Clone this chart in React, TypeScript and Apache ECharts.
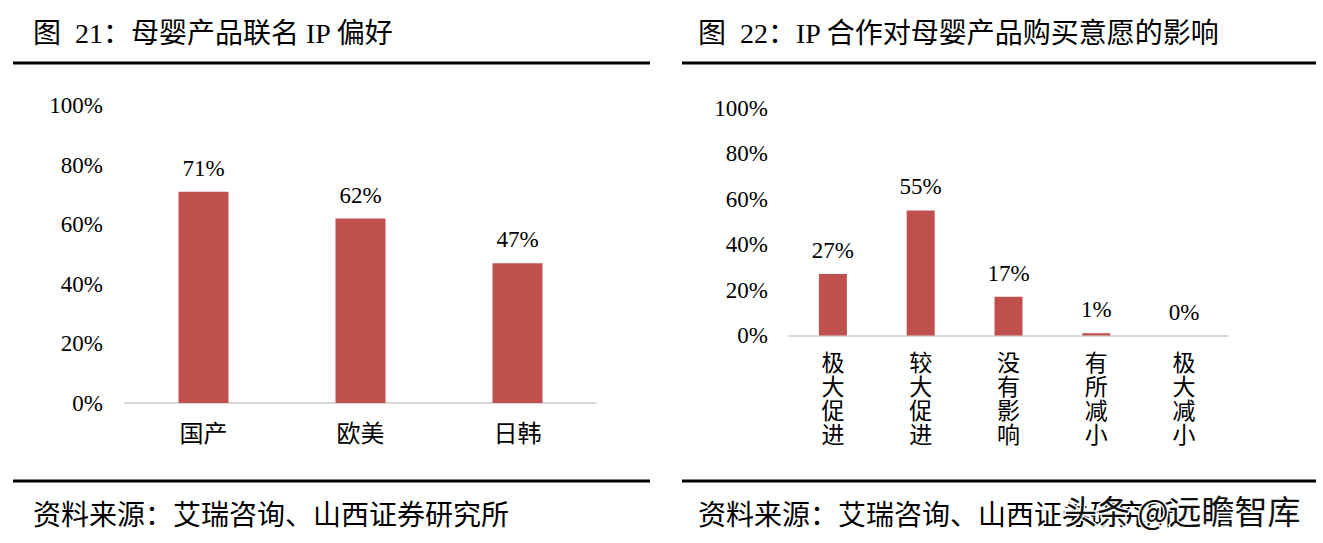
import React, { useEffect, useRef } from "react";
import * as echarts from "echarts";

const leftTitle = "图  21：母婴产品联名 IP 偏好";
const rightTitle = "图  22：IP 合作对母婴产品购买意愿的影响";
const sourceText = "资料来源：艾瑞咨询、山西证券研究所";
const watermark = "头条 @远瞻智库";

const leftCategories = ["国产", "欧美", "日韩"];
const leftValues = [71, 62, 47];

const rightCategories = ["极大促进", "较大促进", "没有影响", "有所减小", "极大减小"];
const rightValues = [27, 55, 17, 1, 0];

const yTicks = { min: 0, max: 100, interval: 20 };

const BAR = "#c0504d";
const SERIF = "'Liberation Serif', 'Noto Sans CJK SC', serif";
const SANS = "'Noto Sans CJK SC', 'Noto Sans', sans-serif";

export default function App() {
  const ref = useRef<HTMLDivElement>(null);
  useEffect(() => {
    if (!ref.current) return;
    const chart = echarts.init(ref.current, undefined, { renderer: "svg" });
    const yAxisBase = (margin: number) => ({
      type: "value",
      min: yTicks.min,
      max: yTicks.max,
      interval: yTicks.interval,
      axisLine: { show: false },
      axisTick: { show: false },
      splitLine: { show: false },
      axisLabel: {
        formatter: "{value}%",
        fontFamily: SERIF,
        fontSize: 23,
        color: "#000",
        margin,
      },
    });
    const labelStyle = {
      show: true,
      position: "top",
      distance: 12,
      formatter: "{c}%",
      fontFamily: SERIF,
      fontSize: 23,
      color: "#000",
    };
    const text = (t: string, x: number, y: number, size: number, family: string, extra: any = {}) => ({
      type: "text",
      x,
      y,
      style: {
        text: t,
        fontSize: size,
        fontFamily: family,
        fill: "#000",
        verticalAlign: "middle",
        align: "left",
        ...extra,
      },
      z: 10,
    });
    const hline = (x1: number, x2: number, y: number) => ({
      type: "line",
      shape: { x1, y1: y, x2, y2: y },
      style: { stroke: "#000", lineWidth: 3 },
    });
    chart.setOption({
      animation: false,
      backgroundColor: "#fff",
      grid: [
        { left: 125, top: 105.5, width: 471, height: 297.5 },
        { left: 789, top: 108, width: 439, height: 227.5 },
      ],
      xAxis: [
        {
          type: "category",
          gridIndex: 0,
          data: leftCategories,
          axisLine: { lineStyle: { color: "#d9d9d9", width: 2 } },
          axisTick: { show: false },
          axisLabel: { fontFamily: SANS, fontSize: 24, color: "#000", margin: 16 },
        },
        {
          type: "category",
          gridIndex: 1,
          data: rightCategories,
          axisLine: { lineStyle: { color: "#d9d9d9", width: 2 } },
          axisTick: { show: false },
          axisLabel: {
            interval: 0,
            fontFamily: SANS,
            fontSize: 23,
            lineHeight: 24,
            color: "#000",
            margin: 13,
            formatter: (v: string) => v.split("").join("\n"),
          },
        },
      ],
      yAxis: [
        { ...yAxisBase(22), gridIndex: 0 },
        { ...yAxisBase(21), gridIndex: 1 },
      ],
      series: [
        {
          type: "bar",
          xAxisIndex: 0,
          yAxisIndex: 0,
          data: leftValues,
          barWidth: 50,
          itemStyle: { color: BAR },
          label: labelStyle,
        },
        {
          type: "bar",
          xAxisIndex: 1,
          yAxisIndex: 1,
          data: rightValues,
          barWidth: 28,
          itemStyle: { color: BAR },
          label: labelStyle,
        },
      ],
      graphic: [
        text(leftTitle, 33, 33, 28, SERIF),
        text(rightTitle, 698, 33, 28, SERIF),
        hline(13, 650, 63),
        hline(682, 1316, 63),
        hline(13, 650, 481),
        hline(682, 1316, 481),
        text(sourceText, 33, 513, 28, SANS),
        text(sourceText, 698, 513, 28, SANS),
        text(watermark, 1064, 510, 33, SANS, {
          stroke: "#fff",
          lineWidth: 3,
          fill: "#111",
        }),
      ],
    });
    return () => chart.dispose();
  }, []);
  return (
    <div
      ref={ref}
      style={{ position: "fixed", left: 0, top: 0, width: 1323, height: 543, background: "#fff" }}
    />
  );
}
